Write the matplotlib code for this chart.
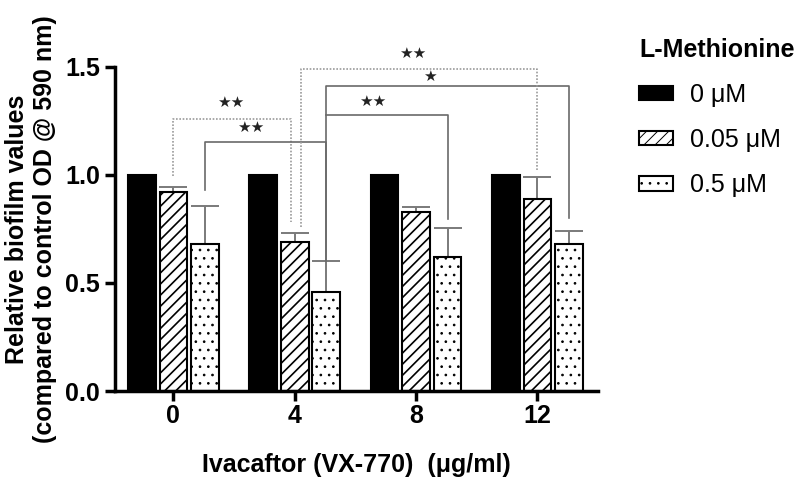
import numpy as np
import matplotlib
matplotlib.use("Agg")
import matplotlib.pyplot as plt

plt.rcParams['font.family'] = ['Liberation Sans', 'DejaVu Sans']
plt.rcParams['hatch.linewidth'] = 1.2

doses = ['0', '4', '8', '12']
conc_labels = ['0 \u03bcM', '0.05 \u03bcM', '0.5 \u03bcM']
means_0 = [1.0, 1.0, 1.0, 1.0]
means_005 = [0.92, 0.69, 0.83, 0.89]
means_05 = [0.68, 0.46, 0.62, 0.68]
err_0 = [0.0, 0.0, 0.0, 0.0]
err_005 = [0.025, 0.04, 0.023, 0.10]
err_05 = [0.175, 0.14, 0.135, 0.06]

# significance brackets: x1, x2, top, left foot, right foot, label, label x, label y, dotted?
brackets = [
    (0.0, 0.97, 1.26, 0.995, 0.78, '\u2605\u2605', 0.47, 1.334, True),
    (0.26, 1.26, 1.15, 0.93, 0.60, '\u2605\u2605', 0.635, 1.218, False),
    (1.26, 2.26, 1.278, 1.278, 0.795, '\u2605\u2605', 1.64, 1.338, False),
    (1.26, 3.26, 1.409, 0.60, 0.80, '\u2605', 2.11, 1.454, False),
    (1.05, 3.0, 1.49, 0.76, 1.02, '\u2605\u2605', 1.97, 1.564, True),
]

fig = plt.figure(figsize=(8, 4.84), dpi=100)
ax = fig.add_axes([0.144, 0.192, 0.6035, 0.670])

x = np.arange(len(doses))
pitch = 0.26
width = 0.228
series = [(means_0, err_0, 'black', '', 1.2),
          (means_005, err_005, 'white', '///', 1.2),
          (means_05, err_05, 'white', '..', 0.7)]
for i, (m, e, fc, h, hlw) in enumerate(series):
    pos = x + (i - 1) * pitch
    plt.rcParams['hatch.linewidth'] = hlw
    bars = ax.bar(pos, m, width, color=fc, edgecolor='black', linewidth=1.5,
                  hatch=h, label=conc_labels[i], zorder=2)
    for b in bars:
        if hasattr(b, 'set_hatch_linewidth'):
            b.set_hatch_linewidth(hlw)
    if i > 0:
        ax.errorbar(pos, m, yerr=[np.zeros(len(e)), e], fmt='none',
                    ecolor='#7a7a7a', elinewidth=1.4, capsize=10,
                    capthick=1.4, zorder=1)

for x1, x2, top, lb, rb, lab, lx, ly, dotted in brackets:
    ls = (0, (1, 1)) if dotted else '-'
    col = '#9a9a9a' if dotted else '#6a6a6a'
    ax.plot([x1, x1, x2, x2], [lb, top, top, rb], color=col, lw=1.2,
            ls=ls, clip_on=False, zorder=3)
    ax.text(lx, ly, lab, ha='center', va='center', fontsize=11,
            family='DejaVu Sans', color='#222222')

ax.set_xlim(-0.48, 3.5)
ax.set_ylim(0, 1.5)
ax.set_xticks(x)
ax.set_xticklabels(doses)
ax.set_yticks([0, 0.5, 1.0, 1.5])
ax.set_yticklabels(['0.0', '0.5', '1.0', '1.5'])
for s in ['top', 'right']:
    ax.spines[s].set_visible(False)
for s in ['left', 'bottom']:
    ax.spines[s].set_linewidth(2.5)
ax.tick_params(direction='out', length=7, width=2.5, labelsize=18)
ax.tick_params(axis='x', pad=2)
ax.tick_params(axis='y', pad=4)
for t in ax.get_xticklabels() + ax.get_yticklabels():
    t.set_fontweight('bold')

ax.set_xlabel('Ivacaftor (VX-770)  (\u03bcg/ml)', fontsize=18,
              fontweight='bold', labelpad=18)
ax.set_ylabel('Relative biofilm values\n(compared to control OD @ 590 nm)',
              fontsize=18, fontweight='bold', labelpad=6)

leg = ax.legend(loc='upper left', bbox_to_anchor=(0.783, 0.948),
                bbox_transform=fig.transFigure, frameon=False, fontsize=18,
                title='L-Methionine', handlelength=1.35, handleheight=0.5,
                labelspacing=0.85, handletextpad=0.7, borderpad=0)
leg.get_title().set_fontweight('bold')
leg.get_title().set_fontsize(18)
leg._legend_box.align = 'left'

fig.savefig('out.png', dpi=100)
